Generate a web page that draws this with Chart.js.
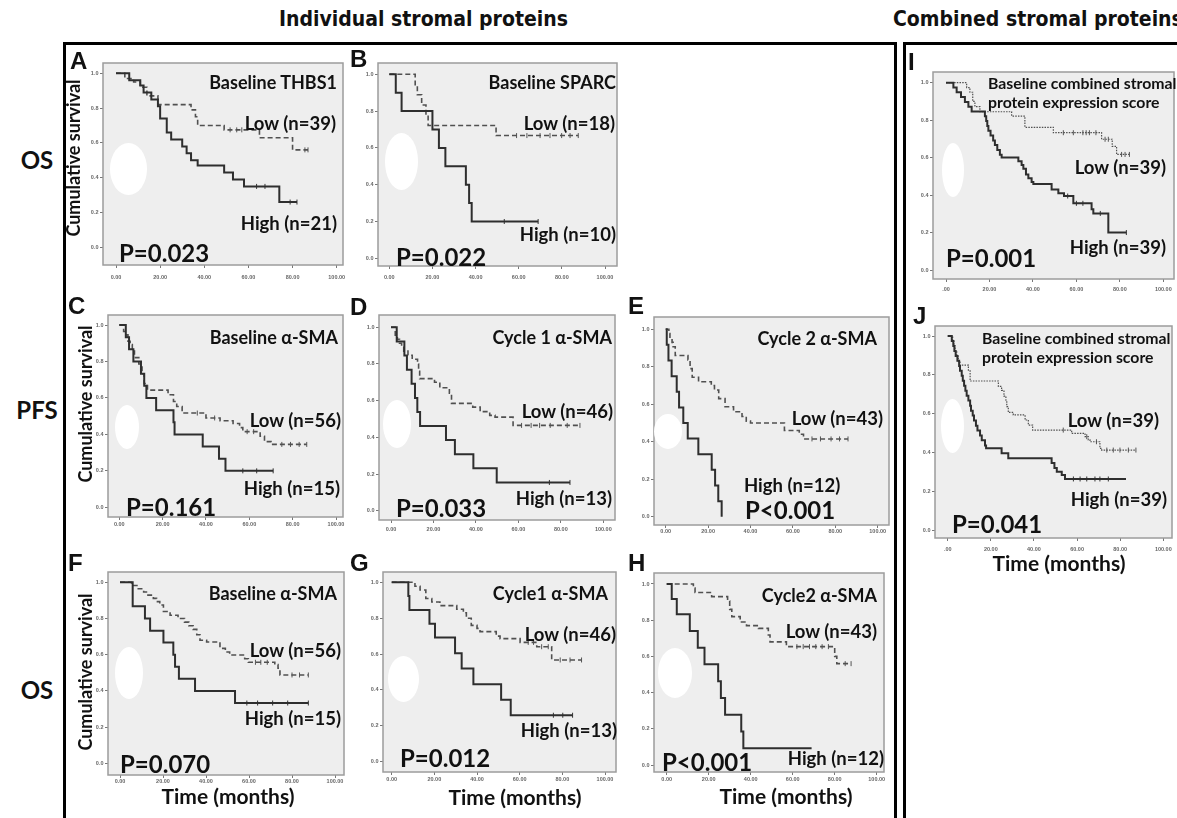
<!DOCTYPE html>
<html>
<head>
<meta charset="utf-8">
<script src="https://cdn.jsdelivr.net/npm/chart.js@4.4.1/dist/chart.umd.min.js"></script>
<style>
  html, body { margin: 0; padding: 0; background: #fff; }
  #page { position: relative; width: 1177px; height: 818px; overflow: hidden; background: #fff; }
  .frame { position: absolute; border: 3px solid #000; box-sizing: border-box; }
  .txt { position: absolute; white-space: nowrap; line-height: 1; font-family: Lato, "Open Sans", sans-serif; font-weight: bold; color: #111; }
  .blob { position: absolute; background: #fff; border-radius: 50%; }
  canvas { position: absolute; }
</style>
</head>
<body>
<div id="page"></div>
<script>
// tick labels
const xTickValues = [0, 20, 40, 60, 80, 100];
const xTickLabels = ["0.00", "20.00", "40.00", "60.00", "80.00", "100.00"];
const xTickLabelsShort = [".00", "20.00", "40.00", "60.00", "80.00", "100.00"];
const yTickValues = [0, 0.2, 0.4, 0.6, 0.8, 1.0];
const yTickLabels = ["0.0", "0.2", "0.4", "0.6", "0.8", "1.0"];

// texts
const panelLetters = ["A", "B", "C", "D", "E", "F", "G", "H", "I", "J"];
const panelTitles = ["Baseline THBS1", "Baseline SPARC", "Baseline α-SMA", "Cycle 1 α-SMA", "Cycle 2 α-SMA",
  "Baseline α-SMA", "Cycle1 α-SMA", "Cycle2 α-SMA",
  "Baseline combined stromal\nprotein expression score", "Baseline combined stromal\nprotein expression score"];
const lowLabels = ["Low (n=39)", "Low (n=18)", "Low (n=56)", "Low (n=46)", "Low (n=43)", "Low (n=56)", "Low (n=46)", "Low (n=43)", "Low (n=39)", "Low (n=39)"];
const highLabels = ["High (n=21)", "High (n=10)", "High (n=15)", "High (n=13)", "High (n=12)", "High (n=15)", "High (n=13)", "High (n=12)", "High (n=39)", "High (n=39)"];
const pValues = ["P=0.023", "P=0.022", "P=0.161", "P=0.033", "P<0.001", "P=0.070", "P=0.012", "P<0.001", "P=0.001", "P=0.041"];
const rowLabels = ["OS", "PFS", "OS"];

// Kaplan-Meier curves: [months, cumulative survival], censored times
const thbs1High = [[0,1],[6,0.96],[11,0.93],[12.5,0.89],[16,0.85],[19,0.81],[20,0.74],[23,0.66],[25,0.62],[30,0.58],[32,0.54],[34,0.5],[37,0.47],[49,0.43],[53,0.39],[58,0.35],[74,0.26],[82,0.26]];
const thbs1HighCens = [63.7, 67.5, 78.9, 82];
const thbs1Low = [[0,1],[4,0.97],[8,0.95],[11,0.92],[14,0.87],[19,0.82],[34,0.79],[36,0.75],[37,0.7],[49,0.675],[65,0.63],[80,0.56],[87,0.56]];
const thbs1LowCens = [51.7, 54.7, 57, 85.6, 87];

const sparcHigh = [[0,1],[3,0.9],[5.7,0.8],[20,0.7],[23,0.6],[26,0.5],[35.5,0.4],[37,0.3],[38.2,0.2],[69,0.2]];
const sparcHighCens = [53.3, 69];
const sparcLow = [[0,1],[12,0.944],[13,0.889],[15,0.833],[17,0.778],[18,0.722],[49.5,0.667],[87.6,0.667]];
const sparcLowCens = [59, 63.8, 69.9, 74.5, 79.9, 83.8, 87.6];

const smaBasePfsHigh = [[0,1],[3,0.933],[4.5,0.867],[6.5,0.8],[10,0.733],[11.5,0.667],[12.5,0.6],[17,0.533],[25,0.467],[25.5,0.4],[38.5,0.333],[46,0.267],[49,0.2],[71,0.2]];
const smaBasePfsHighCens = [57, 63.4, 71];
const smaBasePfsLow = [[0,1],[2,0.964],[3,0.946],[4,0.911],[5,0.893],[6,0.857],[7,0.821],[9,0.786],[10.5,0.732],[11.5,0.679],[13,0.643],[22.5,0.617],[25,0.58],[26.5,0.553],[29,0.517],[40,0.49],[46.5,0.475],[52.5,0.46],[55.5,0.437],[57,0.415],[65,0.39],[67,0.36],[70,0.345],[86.5,0.345]];
const smaBasePfsLowCens = [36, 44, 59, 62, 75, 79, 83, 86.5];

const smaC1PfsHigh = [[0,1],[2.7,0.923],[6.3,0.846],[7.5,0.769],[9.7,0.692],[11.3,0.615],[12.4,0.538],[13.7,0.462],[25.9,0.385],[30.1,0.308],[38.8,0.231],[49.8,0.154],[84.3,0.154]];
const smaC1PfsHighCens = [74.6, 84.3];
const smaC1PfsLow = [[0,1],[2,0.957],[3,0.935],[4,0.913],[5,0.891],[6,0.87],[8,0.848],[10,0.826],[12.5,0.8],[13,0.76],[13.5,0.72],[20.5,0.7],[23,0.67],[27.5,0.64],[28.5,0.585],[38.5,0.565],[42,0.54],[46.5,0.52],[49,0.51],[57.5,0.465],[89,0.465]];
const smaC1PfsLowCens = [61.5, 66, 70, 75, 83, 89];

const smaC2PfsHigh = [[0,1],[0.5,0.917],[1.3,0.833],[2.8,0.75],[5.2,0.667],[6.3,0.583],[8.3,0.5],[10.4,0.417],[15.4,0.333],[21.7,0.25],[23.3,0.167],[24.8,0.083],[26.4,0]];
const smaC2PfsHighCens = [];
const smaC2PfsLow = [[0,1],[1.5,0.977],[2,0.953],[3,0.93],[3.5,0.907],[4.5,0.86],[10.5,0.837],[11.5,0.79],[12.5,0.744],[15.5,0.72],[21.5,0.7],[23,0.676],[25,0.63],[28,0.587],[32,0.56],[36,0.535],[38,0.51],[40,0.5],[56,0.46],[63,0.44],[65,0.415],[86,0.415]];
const smaC2PfsLowCens = [69, 73, 78, 82, 86];

const smaBaseOsHigh = [[0,1],[5.9,0.867],[11.6,0.8],[14,0.733],[20.2,0.667],[24.8,0.6],[25.6,0.533],[27.4,0.467],[34.9,0.4],[53.5,0.333],[87.6,0.333]];
const smaBaseOsHighCens = [59, 64, 71, 78, 87.6];
const smaBaseOsLow = [[0,1],[5.4,0.982],[8.5,0.964],[11,0.946],[13,0.929],[15.5,0.911],[17,0.893],[18.5,0.875],[20.2,0.839],[23.3,0.818],[27,0.8],[30,0.78],[32,0.76],[34,0.74],[35.7,0.71],[37.2,0.68],[40.3,0.67],[46.5,0.635],[49,0.615],[51,0.598],[58,0.578],[59.7,0.558],[72,0.545],[73.5,0.525],[74.4,0.488],[87.6,0.488]];
const smaBaseOsLowCens = [63, 65.5, 68.5, 80, 83.5, 87.6];

const smaC1OsHigh = [[0,1],[7.8,0.923],[8.3,0.846],[17.7,0.769],[20.3,0.692],[29.7,0.605],[32.8,0.519],[38.3,0.432],[51.3,0.346],[55.8,0.259],[84.8,0.259]];
const smaC1OsHighCens = [75.8, 80.2, 84.8];
const smaC1OsLow = [[0,1],[10.9,0.978],[13.3,0.957],[16,0.91],[18.8,0.89],[22.6,0.87],[30.5,0.85],[33.6,0.83],[35,0.8],[37.3,0.76],[40,0.743],[41.4,0.725],[49,0.7],[50.8,0.686],[60.2,0.665],[68,0.641],[75,0.567],[89,0.567]];
const smaC1OsLowCens = [64, 66.5, 70.3, 73.4, 79, 83.6, 89];

const smaC2OsHigh = [[0,1],[2.4,0.917],[4.8,0.833],[11,0.74],[14.8,0.648],[18,0.556],[24.5,0.463],[25.8,0.37],[27.8,0.278],[35.5,0.185],[36.5,0.093],[69,0.093]];
const smaC2OsHighCens = [];
const smaC2OsLow = [[0,1],[12.7,0.977],[13.5,0.953],[21.4,0.93],[29,0.906],[30,0.86],[31,0.82],[35,0.79],[38,0.77],[43.7,0.755],[48.4,0.718],[49.2,0.68],[57,0.654],[80,0.6],[81,0.56],[87.8,0.56]];
const smaC2OsLowCens = [62, 65, 68, 71, 74, 77, 85, 87.8];

const combOsHigh = [[0,1],[3.4,0.974],[4.9,0.949],[6.9,0.923],[8.7,0.897],[10.3,0.872],[11.8,0.846],[17.9,0.821],[18.5,0.795],[19,0.769],[19.5,0.744],[20.5,0.718],[21.7,0.692],[22.5,0.667],[23.6,0.641],[24.8,0.615],[25.6,0.6],[33.3,0.58],[34.8,0.56],[35.6,0.54],[36.8,0.51],[37.9,0.49],[39.4,0.47],[40.2,0.459],[48.6,0.43],[51.7,0.41],[54.3,0.395],[58.6,0.356],[67,0.325],[67.8,0.302],[74.7,0.2],[83,0.2]];
const combOsHighCens = [56, 60, 63, 71, 83];
const combOsLow = [[0,1],[9.5,0.974],[11,0.949],[12.3,0.9],[13.3,0.872],[15.6,0.845],[30.2,0.822],[36.3,0.762],[49.4,0.733],[71.6,0.698],[76.5,0.66],[78.5,0.617],[84.4,0.617]];
const combOsLowCens = [54, 58.6, 63, 64.5, 66, 69, 73.2, 74.7, 80.8, 82.4, 84.4];

const combPfsHigh = [[0,1],[1.9,0.974],[2.6,0.949],[3.1,0.923],[3.7,0.897],[4.5,0.872],[5.3,0.846],[5.7,0.821],[6.5,0.795],[7,0.769],[7.6,0.744],[8.2,0.718],[8.8,0.692],[9.6,0.667],[10.4,0.641],[10.8,0.615],[11.6,0.59],[12.2,0.564],[13.1,0.538],[13.8,0.513],[15,0.487],[15.8,0.462],[17.3,0.436],[17.8,0.421],[25,0.395],[28.1,0.37],[48.2,0.345],[49.5,0.32],[50.6,0.3],[52.9,0.283],[54.4,0.263],[82.7,0.263]];
const combPfsHighCens = [58.3, 61.4, 64.5, 68.3, 70.6, 74.5];
const combPfsLow = [[0,1],[2.3,0.974],[2.9,0.949],[3.4,0.923],[4.2,0.897],[4.9,0.872],[5.7,0.85],[9.6,0.82],[10.4,0.768],[23.5,0.74],[25,0.72],[26.1,0.69],[27,0.665],[27.4,0.636],[28.1,0.606],[30.4,0.593],[35.9,0.567],[37.4,0.541],[39.4,0.515],[57.5,0.498],[63.7,0.481],[65.2,0.465],[66,0.455],[70.6,0.421],[71.4,0.412],[87.3,0.412]];
const combPfsLowCens = [53.6, 64.5, 69, 73.8, 76.8, 79.9, 83.8, 87.3];

const highCurves = [thbs1High, sparcHigh, smaBasePfsHigh, smaC1PfsHigh, smaC2PfsHigh, smaBaseOsHigh, smaC1OsHigh, smaC2OsHigh, combOsHigh, combPfsHigh];
const highCens = [thbs1HighCens, sparcHighCens, smaBasePfsHighCens, smaC1PfsHighCens, smaC2PfsHighCens, smaBaseOsHighCens, smaC1OsHighCens, smaC2OsHighCens, combOsHighCens, combPfsHighCens];
const lowCurves = [thbs1Low, sparcLow, smaBasePfsLow, smaC1PfsLow, smaC2PfsLow, smaBaseOsLow, smaC1OsLow, smaC2OsLow, combOsLow, combPfsLow];
const lowCens = [thbs1LowCens, sparcLowCens, smaBasePfsLowCens, smaC1PfsLowCens, smaC2PfsLowCens, smaBaseOsLowCens, smaC1OsLowCens, smaC2OsLowCens, combOsLowCens, combPfsLowCens];

// page layout (pixels): plot box, axis calibration, text anchors
const layout = [
  { box: [103, 63, 343, 265], x0: 116, x100: 336.7, y1: 73.3, y0: 247.3, xlab: 277, blob: [110, 143, 37, 52],
    title: [337, 82], low: [336, 123], high: [337, 223], p: [119, 253], letter: [70, 61] },
  { box: [378, 63, 617, 266], x0: 389.3, x100: 605, y1: 74.3, y0: 258.3, xlab: 277, blob: [385, 133, 33, 57],
    title: [616, 82], low: [615, 123], high: [616, 234], p: [396, 257], letter: [350, 59] },
  { box: [108, 315, 343, 517], x0: 119.3, x100: 336, y1: 325, y0: 507.3, xlab: 524, blob: [115, 405, 24, 44],
    title: [338, 337], low: [341, 420], high: [340, 488], p: [126, 507], letter: [68, 306] },
  { box: [379, 315, 615, 520], x0: 391, x100: 603.3, y1: 327.3, y0: 510.7, xlab: 529, blob: [383, 400, 28, 48],
    title: [612, 337], low: [613, 411], high: [612, 498], p: [396, 508], letter: [350, 307] },
  { box: [654, 317, 889, 525], x0: 665.7, x100: 877.7, y1: 329.3, y0: 516.7, xlab: 529, blob: [654, 414, 28, 35],
    title: [877, 338], low: [883, 418], high: [744, 485], highLeft: true, p: [745, 510], letter: [628, 306] },
  { box: [108, 572, 344, 775], x0: 120, x100: 335, y1: 582.3, y0: 763.3, xlab: 781, blob: [115, 647, 28, 52],
    title: [337, 593], low: [341, 650], high: [341, 718], p: [120, 764], letter: [68, 563], xtitle: [228, 795] },
  { box: [383, 572, 616, 772], x0: 391.7, x100: 605, y1: 582.3, y0: 761.7, xlab: 779, blob: [388, 656, 31, 46],
    title: [608, 593], low: [616, 634], high: [617, 730], p: [400, 758], letter: [350, 563], xtitle: [515, 796] },
  { box: [654, 573, 884, 772], x0: 666.7, x100: 876.7, y1: 584, y0: 765, xlab: 779, blob: [658, 648, 34, 50],
    title: [877, 595], low: [877, 631], high: [884, 758], p: [662, 762], letter: [628, 563], xtitle: [786, 795] },
  { box: [933, 72, 1174, 279], x0: 946, x100: 1163.3, y1: 82.7, y0: 270, xlab: 289, blob: [942, 143, 22, 54],
    title: [988, 83], twoLine: true, low: [1166, 167], high: [1166, 247], p: [946, 258], letter: [908, 62], shortTicks: true, dotted: true },
  { box: [935, 326, 1172, 538], x0: 947.7, x100: 1163.3, y1: 336, y0: 530, xlab: 549, blob: [941, 399, 23, 54],
    title: [982, 338], twoLine: true, low: [1159, 420], high: [1167, 499], p: [952, 524], letter: [913, 316], shortTicks: true, dotted: true,
    xtitle: [1059, 562] }
];
const yTitles = [[73, 158], [85, 404], [85, 672]];
const rowLabelPos = [[37, 160], [37, 410], [37, 690]];

const page = document.getElementById("page");

function addText(str, x, y, size, anchor, opts) {
  opts = opts || {};
  const d = document.createElement("div");
  d.className = "txt";
  d.textContent = str;
  d.style.left = x + "px";
  d.style.top = y + "px";
  d.style.fontSize = size + "px";
  if (opts.family) d.style.fontFamily = opts.family;
  if (opts.stretch) d.style.fontStretch = opts.stretch;
  const tx = anchor === "r" ? "-100%" : anchor === "c" ? "-50%" : "0";
  d.style.transform = "translate(" + tx + ",-50%)" + (opts.rotate ? " rotate(" + opts.rotate + "deg)" : "");
  page.appendChild(d);
  return d;
}

function addFrame(l, t, w, h) {
  const f = document.createElement("div");
  f.className = "frame";
  f.style.left = l + "px"; f.style.top = t + "px";
  f.style.width = w + "px"; f.style.height = h + "px";
  page.appendChild(f);
}

function stepAt(curve, t) {
  let s = curve[0][1];
  curve.forEach((p) => { if (p[0] <= t) s = p[1]; });
  return s;
}

const plotBox = {
  id: "plotBox",
  beforeDraw(chart) {
    const { ctx, chartArea: a } = chart;
    ctx.save();
    ctx.fillStyle = "#eeeeee";
    ctx.fillRect(a.left, a.top, a.right - a.left, a.bottom - a.top);
    ctx.restore();
  },
  afterDraw(chart) {
    const { ctx, chartArea: a } = chart;
    ctx.save();
    ctx.strokeStyle = "#9c9c9c";
    ctx.lineWidth = 1.5;
    ctx.strokeRect(a.left, a.top, a.right - a.left, a.bottom - a.top);
    ctx.restore();
  }
};

addFrame(63, 42, 834, 800);
addFrame(903, 42, 300, 800);

const headFont = '"DejaVu Sans Condensed", "DejaVu Sans", sans-serif';
addText("Individual stromal proteins", 279, 19, 21, "l", { family: headFont, stretch: "condensed" });
addText("Combined stromal proteins", 893, 19, 21, "l", { family: headFont, stretch: "condensed" });
rowLabels.forEach((r, i) => addText(r, rowLabelPos[i][0], rowLabelPos[i][1], 24, "c"));

function buildPanel(i) {
  const L = layout[i];
  const [bl, bt, br, bb] = L.box;
  const ppx = (L.x100 - L.x0) / 100;
  const ppy = L.y0 - L.y1;
  const yAxisW = 36, padTop = 8, padRight = 16, tickLen = 3, tickFont = 5.5;
  const xAxisH = L.xlab - bb + 8;
  const canvas = document.createElement("canvas");
  canvas.width = (br - bl) + yAxisW + padRight;
  canvas.height = padTop + (bb - bt) + xAxisH;
  canvas.style.left = (bl - yAxisW) + "px";
  canvas.style.top = (bt - padTop) + "px";
  page.appendChild(canvas);

  const high = highCurves[i], low = lowCurves[i];
  const xLabels = L.shortTicks ? xTickLabelsShort : xTickLabels;
  const tickStyle = { font: { size: tickFont, weight: "bold", family: "Liberation Sans" }, color: "#666" };

  new Chart(canvas, {
    type: "line",
    data: {
      datasets: [
        { data: high.map((p) => ({ x: p[0], y: p[1] })), stepped: true, borderColor: "#2e2e2e", borderWidth: 2, pointRadius: 0, fill: false },
        { data: low.map((p) => ({ x: p[0], y: p[1] })), stepped: true, borderColor: "#505050", borderWidth: L.dotted ? 1.2 : 1.6,
          borderDash: L.dotted ? [1.5, 1.2] : [5, 3], pointRadius: 0, fill: false },
        { data: highCens[i].map((t) => ({ x: t, y: stepAt(high, t) })), showLine: false, pointStyle: "line", rotation: 90,
          pointRadius: 2.5, pointBorderWidth: 1, borderColor: "#333", backgroundColor: "#333" },
        { data: lowCens[i].map((t) => ({ x: t, y: stepAt(low, t) })), showLine: false, pointStyle: "line", rotation: 90,
          pointRadius: 2.5, pointBorderWidth: 1, borderColor: "#555", backgroundColor: "#555" }
      ]
    },
    options: {
      responsive: false,
      animation: false,
      layout: { padding: { top: padTop, right: padRight, left: 0, bottom: 0 } },
      plugins: { legend: { display: false }, tooltip: { enabled: false } },
      scales: {
        x: {
          type: "linear",
          min: (bl - L.x0) / ppx,
          max: (br - L.x0) / ppx,
          afterBuildTicks: (axis) => { axis.ticks = xTickValues.map((v) => ({ value: v })); },
          afterFit: (axis) => { axis.height = xAxisH; },
          grid: { display: true, drawOnChartArea: false, drawTicks: true, tickLength: tickLen, color: "#777" },
          border: { display: false },
          ticks: Object.assign({ autoSkip: false, maxRotation: 0, padding: Math.max(0, L.xlab - bb - tickLen - 3.3),
            callback: (v, idx) => xLabels[idx] }, tickStyle)
        },
        y: {
          type: "linear",
          min: (L.y0 - bb) / ppy,
          max: (L.y0 - bt) / ppy,
          afterBuildTicks: (axis) => { axis.ticks = yTickValues.map((v) => ({ value: v })); },
          afterFit: (axis) => { axis.width = yAxisW; },
          grid: { display: true, drawOnChartArea: false, drawTicks: true, tickLength: tickLen, color: "#777" },
          border: { display: false },
          ticks: Object.assign({ autoSkip: false, padding: 1.5, callback: (v, idx) => yTickLabels[idx] }, tickStyle)
        }
      }
    },
    plugins: [plotBox]
  });

  const b = document.createElement("div");
  b.className = "blob";
  b.style.left = L.blob[0] + "px"; b.style.top = L.blob[1] + "px";
  b.style.width = L.blob[2] + "px"; b.style.height = L.blob[3] + "px";
  page.appendChild(b);

  // annotations
  addText(panelLetters[i], L.letter[0], L.letter[1], 24, "l", { family: '"Liberation Sans", Arial, sans-serif' });
  if (L.twoLine) {
    const lines = panelTitles[i].split("\n");
    addText(lines[0], L.title[0], L.title[1], 15.8, "l");
    addText(lines[1], L.title[0], L.title[1] + 19, 15.8, "l");
  } else {
    addText(panelTitles[i], L.title[0], L.title[1], 18, "r");
  }
  addText(lowLabels[i], L.low[0], L.low[1], 18.5, "r");
  addText(highLabels[i], L.high[0], L.high[1], 18.5, L.highLeft ? "l" : "r");
  addText(pValues[i], L.p[0], L.p[1], 24, "l");
  if (L.xtitle) addText("Time (months)", L.xtitle[0], L.xtitle[1], 21, "c");
}

for (let i = 0; i < layout.length; i++) buildPanel(i);

yTitles.forEach((pos) => addText("Cumulative survival", pos[0], pos[1], 18, "c", { rotate: -90 }));
</script>
</body>
</html>
